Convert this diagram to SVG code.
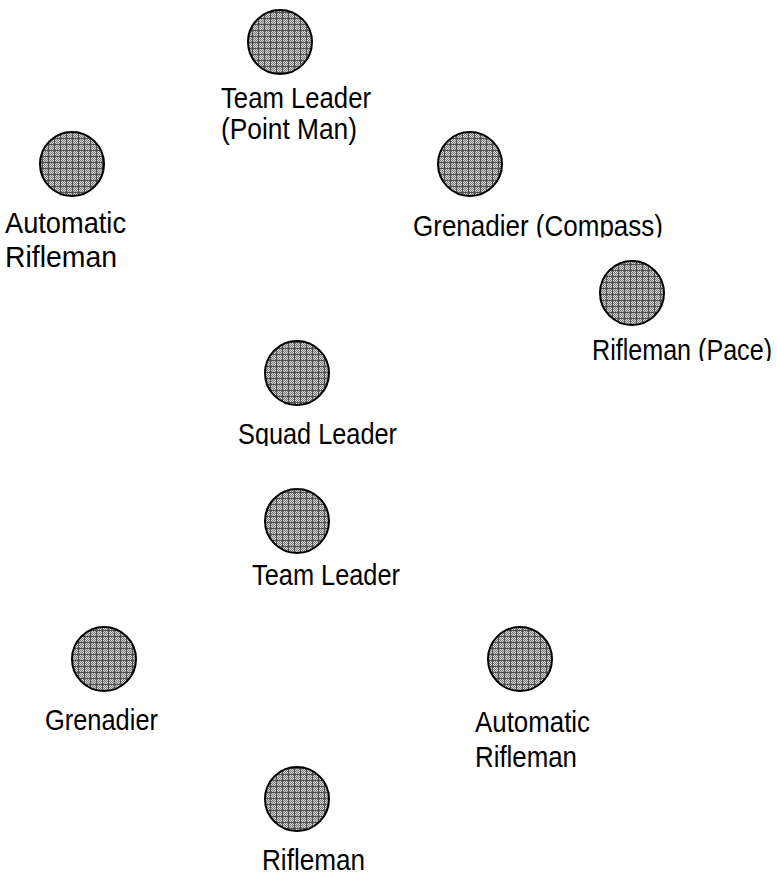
<svg xmlns="http://www.w3.org/2000/svg" width="777" height="878" viewBox="0 0 777 878">
<defs>
<pattern id="dith" width="2" height="2" patternUnits="userSpaceOnUse">
<rect width="2" height="2" fill="#d4d4d4"/>
<rect width="1" height="1" fill="#7a7a7a"/>
<rect x="1" y="1" width="1" height="1" fill="#7a7a7a"/>
</pattern>
<pattern id="grid" width="6" height="6" patternUnits="userSpaceOnUse">
<rect width="6" height="6" fill="url(#dith)"/>
<rect width="6" height="1" fill="#505050"/>
<rect width="1" height="6" fill="#505050"/>
</pattern>
<clipPath id="clipCompass"><rect x="400" y="200" width="300" height="37.5"/></clipPath>
<clipPath id="clipPace"><rect x="580" y="320" width="197" height="41"/></clipPath>
<clipPath id="clipSquad"><rect x="220" y="400" width="200" height="46"/></clipPath>
</defs>
<style>
.m { fill: url(#grid); stroke: #000; stroke-width: 2; }
.t { font-family: "Liberation Sans", Arial, sans-serif; font-size: 29px; fill: #000; }
</style>
<rect width="777" height="878" fill="#fff"/>
<g id="team-leader-point-man">
<circle class="m" cx="280" cy="42" r="32"/>
<text class="t" x="221" y="108" textLength="150" lengthAdjust="spacingAndGlyphs">Team Leader</text>
<text class="t" x="221" y="139" textLength="136" lengthAdjust="spacingAndGlyphs">(Point Man)</text>
</g>
<g id="automatic-rifleman-1">
<circle class="m" cx="72" cy="164" r="32"/>
<text class="t" x="5" y="233" textLength="121" lengthAdjust="spacingAndGlyphs">Automatic</text>
<text class="t" x="5" y="267" textLength="112" lengthAdjust="spacingAndGlyphs">Rifleman</text>
</g>
<g id="grenadier-compass">
<circle class="m" cx="470" cy="164" r="32"/>
<text class="t" x="413" y="236" textLength="250" lengthAdjust="spacingAndGlyphs" clip-path="url(#clipCompass)">Grenadier (Compass)</text>
</g>
<g id="rifleman-pace">
<circle class="m" cx="632" cy="293" r="32"/>
<text class="t" x="592" y="360" textLength="180" lengthAdjust="spacingAndGlyphs" clip-path="url(#clipPace)">Rifleman (Pace)</text>
</g>
<g id="squad-leader">
<circle class="m" cx="297" cy="373" r="32"/>
<text class="t" x="238" y="444" textLength="159" lengthAdjust="spacingAndGlyphs" clip-path="url(#clipSquad)">Squad Leader</text>
</g>
<g id="team-leader-2">
<circle class="m" cx="297" cy="521" r="32"/>
<text class="t" x="252" y="585" textLength="148" lengthAdjust="spacingAndGlyphs">Team Leader</text>
</g>
<g id="grenadier-2">
<circle class="m" cx="104" cy="659" r="32"/>
<text class="t" x="45" y="730" textLength="113" lengthAdjust="spacingAndGlyphs">Grenadier</text>
</g>
<g id="automatic-rifleman-2">
<circle class="m" cx="520" cy="659" r="32"/>
<text class="t" x="475" y="732" textLength="115" lengthAdjust="spacingAndGlyphs">Automatic</text>
<text class="t" x="475" y="767" textLength="102" lengthAdjust="spacingAndGlyphs">Rifleman</text>
</g>
<g id="rifleman-2">
<circle class="m" cx="297" cy="799" r="32"/>
<text class="t" x="262" y="870" textLength="103" lengthAdjust="spacingAndGlyphs">Rifleman</text>
</g>
</svg>
